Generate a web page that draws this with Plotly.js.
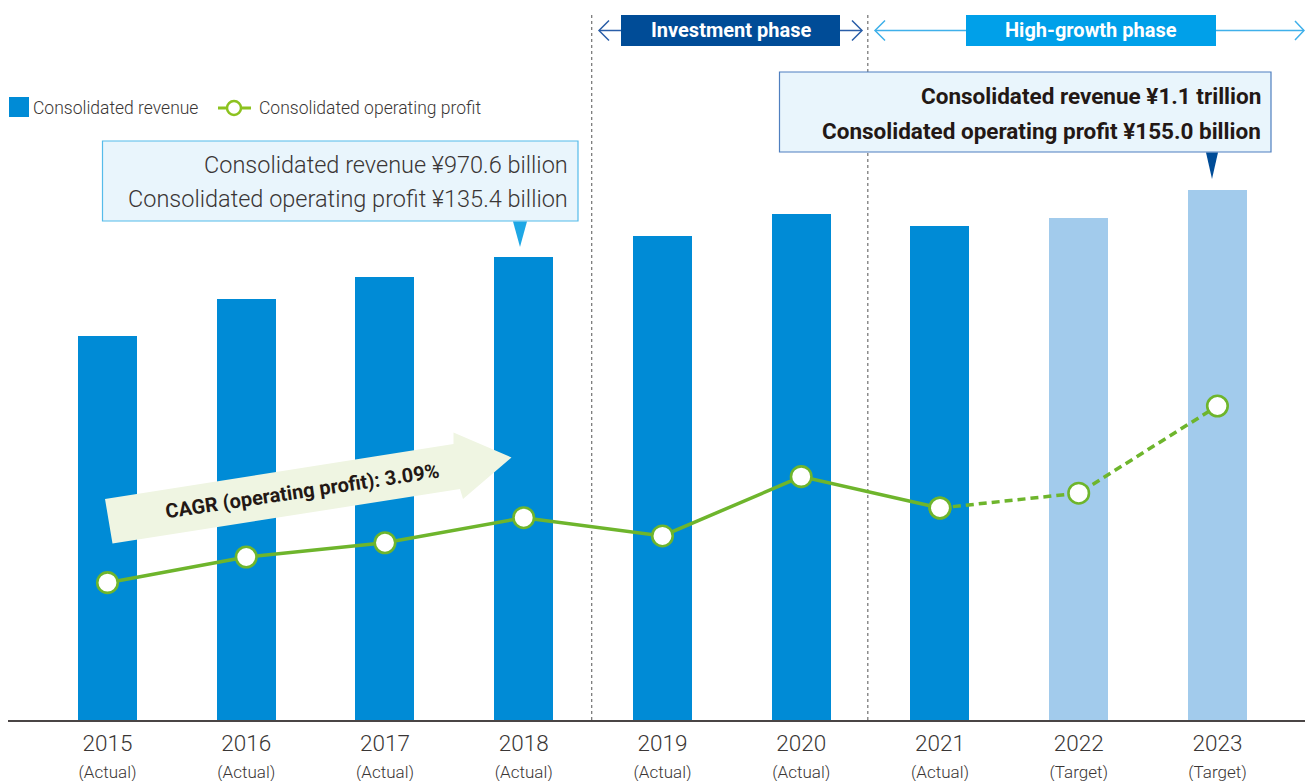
<!DOCTYPE html>
<html>
<head>
<meta charset="utf-8">
<script src="https://cdn.plot.ly/plotly-3.0.1.min.js"></script>
<style>
  html, body { margin: 0; padding: 0; background: #ffffff; }
  #chart { width: 1305px; height: 781px; }
</style>
</head>
<body>
<div id="chart"></div>
<script>
// ---------------- data ----------------
const years = ['2015', '2016', '2017', '2018', '2019', '2020', '2021', '2022', '2023'];
const status = ['Actual', 'Actual', 'Actual', 'Actual', 'Actual', 'Actual', 'Actual', 'Target', 'Target'];
const revenue = [805.6, 882.5, 928.7, 970.6, 1014.6, 1060.7, 1035.6, 1052.3, 1111.0];      // ¥ billion
const opProfit = [124.0, 128.5, 131.0, 135.4, 132.2, 142.6, 137.1, 139.7, 155.0];           // ¥ billion
const seriesNames = ['Consolidated revenue', 'Consolidated operating profit'];
const phaseLabels = ['Investment phase', 'High-growth phase'];
const callout2018 = ['Consolidated revenue ¥970.6 billion', 'Consolidated operating profit ¥135.4 billion'];
const callout2023 = ['Consolidated revenue ¥1.1 trillion', 'Consolidated operating profit ¥155.0 billion'];
const cagrLabel = 'CAGR (operating profit): 3.09%';

// ---------------- styles ----------------
const FONT = 'Roboto, "Open Sans", "DejaVu Sans", sans-serif';
const TEXT = '#3a3635';
const DARK_TEXT = '#231815';
const BLUE = '#008bd6';
const LIGHT_BLUE = '#a2cbec';
const GREEN = '#6eb52c';
const LEGEND_GREEN = '#8cc21f';
const NAVY = '#004c97';
const CYAN = '#00a0e9';

const W = 1305, H = 781;
const M = { l: 8, r: 0, t: 0, b: 61 };
const plotW = W - M.l - M.r, plotH = H - M.t - M.b;
// pixel -> paper helpers (for decorative shapes only)
const px = x => (x - M.l) / plotW;
const py = y => (M.t + plotH - y) / plotH;
const pathOf = pts => pts.map((p, i) => (i ? 'L' : 'M') + px(p[0]).toFixed(5) + ',' + py(p[1]).toFixed(5)).join(' ');

const actualIdx = status.map((s, i) => s === 'Actual' ? i : -1).filter(i => i >= 0);
const lastActual = actualIdx[actualIdx.length - 1];
const dashIdx = years.map((_, i) => i).filter(i => i >= lastActual);

const tickText = years.map((y, i) =>
  '<span style="font-size:22.5px">' + y + '</span><br><span style="font-size:17px">(' + status[i] + ')</span>');

const traces = [
  {
    type: 'bar', x: years, y: revenue, name: seriesNames[0],
    marker: { color: status.map(s => s === 'Actual' ? BLUE : LIGHT_BLUE) },
    width: 0.425, yaxis: 'y', showlegend: false, hoverinfo: 'x+y'
  },
  {
    type: 'scatter', mode: 'lines+markers',
    x: dashIdx.map(i => years[i]), y: dashIdx.map(i => opProfit[i]),
    yaxis: 'y2', showlegend: false,
    line: { color: GREEN, width: 3.5, dash: '8px,5px' },
    marker: { size: 20.5, color: '#ffffff', line: { color: GREEN, width: 2.6 } }
  },
  {
    type: 'scatter', mode: 'lines+markers', name: seriesNames[1],
    x: actualIdx.map(i => years[i]), y: actualIdx.map(i => opProfit[i]),
    yaxis: 'y2', showlegend: false,
    line: { color: GREEN, width: 3.5 },
    marker: { size: 20.5, color: '#ffffff', line: { color: GREEN, width: 2.6 } }
  }
];

const shapes = [
  // phase dividers
  { type: 'line', xref: 'x', yref: 'paper', x0: 3.49, x1: 3.49, y0: 0, y1: py(15), layer: 'below',
    line: { color: '#707070', width: 1.2, dash: 'dot' } },
  { type: 'line', xref: 'x', yref: 'paper', x0: 5.48, x1: 5.48, y0: 0, y1: py(15), layer: 'below',
    line: { color: '#707070', width: 1.2, dash: 'dot' } },
  // investment phase header
  { type: 'rect', xref: 'paper', yref: 'paper', x0: px(621), x1: px(840), y0: py(46), y1: py(15),
    fillcolor: NAVY, line: { width: 0 } },
  { type: 'path', xref: 'paper', yref: 'paper', path: pathOf([[599, 30.5], [621, 30.5]]), line: { color: '#2a5ea8', width: 1.5 } },
  { type: 'path', xref: 'paper', yref: 'paper', path: pathOf([[609, 20.5], [599, 30.5], [609, 40.5]]), line: { color: '#2a5ea8', width: 1.5 } },
  { type: 'path', xref: 'paper', yref: 'paper', path: pathOf([[840, 30.5], [862, 30.5]]), line: { color: '#2a5ea8', width: 1.5 } },
  { type: 'path', xref: 'paper', yref: 'paper', path: pathOf([[852, 20.5], [862, 30.5], [852, 40.5]]), line: { color: '#2a5ea8', width: 1.5 } },
  // high-growth phase header
  { type: 'rect', xref: 'paper', yref: 'paper', x0: px(966), x1: px(1216), y0: py(46), y1: py(15),
    fillcolor: CYAN, line: { width: 0 } },
  { type: 'path', xref: 'paper', yref: 'paper', path: pathOf([[875, 30.5], [966, 30.5]]), line: { color: '#3fb0ea', width: 1.5 } },
  { type: 'path', xref: 'paper', yref: 'paper', path: pathOf([[885, 20.5], [875, 30.5], [885, 40.5]]), line: { color: '#3fb0ea', width: 1.5 } },
  { type: 'path', xref: 'paper', yref: 'paper', path: pathOf([[1216, 30.5], [1304, 30.5]]), line: { color: '#3fb0ea', width: 1.5 } },
  { type: 'path', xref: 'paper', yref: 'paper', path: pathOf([[1295, 21], [1304, 30.5], [1295, 40]]), line: { color: '#3fb0ea', width: 1.5 } },
  // legend
  { type: 'rect', xref: 'paper', yref: 'paper', x0: px(9), x1: px(29), y0: py(117), y1: py(97),
    fillcolor: BLUE, line: { width: 0 } },
  { type: 'path', xref: 'paper', yref: 'paper', path: pathOf([[218, 108], [251, 108]]), line: { color: LEGEND_GREEN, width: 3 } },
  { type: 'circle', xref: 'paper', yref: 'paper', x0: px(227), x1: px(241), y0: py(115), y1: py(101),
    fillcolor: '#ffffff', line: { color: LEGEND_GREEN, width: 2.5 } },
  // 2018 callout
  { type: 'rect', xref: 'paper', yref: 'paper', x0: px(102.5), x1: px(578), y0: py(221), y1: py(141),
    fillcolor: '#e9f5fc', line: { color: '#55bbea', width: 1.2 } },
  { type: 'path', xref: 'paper', yref: 'paper', path: pathOf([[513, 221.5], [527, 221.5], [520, 247]]) + ' Z',
    fillcolor: '#1ea7e5', line: { width: 0 } },
  // 2023 callout
  { type: 'rect', xref: 'paper', yref: 'paper', x0: px(779.5), x1: px(1271), y0: py(152), y1: py(72),
    fillcolor: '#e9f5fc', line: { color: '#4f7fbf', width: 1.2 } },
  { type: 'path', xref: 'paper', yref: 'paper', path: pathOf([[1206, 152.5], [1218, 152.5], [1212, 179]]) + ' Z',
    fillcolor: NAVY, line: { width: 0 } },
  // CAGR arrow
  { type: 'path', xref: 'paper', yref: 'paper',
    path: pathOf([[105, 499], [453.5, 444], [453.5, 432.5], [511.5, 457.5], [463, 499], [460, 489], [112.5, 543.5]]) + ' Z',
    fillcolor: '#eff5e2', line: { width: 0 } }
];

const ann = (x, y, text, opts) => Object.assign({
  xref: 'paper', yref: 'paper', x: px(x), y: py(y), text: text, showarrow: false,
  xanchor: 'left', yanchor: 'middle'
}, opts);

const annotations = [
  ann(730.5, 30.5, '<b>' + phaseLabels[0] + '</b>', { xanchor: 'center', font: { family: FONT, size: 20, color: '#ffffff' } }),
  ann(1091, 30.5, '<b>' + phaseLabels[1] + '</b>', { xanchor: 'center', font: { family: FONT, size: 20, color: '#ffffff' } }),
  ann(31, 108, seriesNames[0], { font: { family: FONT, size: 17.5, color: TEXT, weight: 300 } }),
  ann(257, 108, seriesNames[1], { font: { family: FONT, size: 17.5, color: TEXT, weight: 300 } }),
  ann(570, 165, callout2018[0], { xanchor: 'right', font: { family: FONT, size: 23.5, color: TEXT, weight: 300 } }),
  ann(570, 199, callout2018[1], { xanchor: 'right', font: { family: FONT, size: 23.5, color: TEXT, weight: 300 } }),
  ann(1263, 96.5, '<b>' + callout2023[0] + '</b>', { xanchor: 'right', font: { family: FONT, size: 22.5, color: DARK_TEXT } }),
  ann(1263, 130.5, '<b>' + callout2023[1] + '</b>', { xanchor: 'right', font: { family: FONT, size: 22.5, color: DARK_TEXT } }),
  ann(302, 491, '<b>' + cagrLabel + '</b>', { xanchor: 'center', textangle: -8.5, font: { family: FONT, size: 20, color: DARK_TEXT } })
];

const layout = {
  width: W, height: H,
  margin: M,
  paper_bgcolor: '#ffffff', plot_bgcolor: '#ffffff',
  showlegend: false,
  font: { family: FONT, color: TEXT },
  bargap: 0,
  xaxis: {
    type: 'category', range: [-0.717, 8.631], fixedrange: true,
    tickmode: 'array', tickvals: years, ticktext: tickText,
    ticks: '', showgrid: false, zeroline: false,
    showline: true, linecolor: '#4a4545', linewidth: 1.5,
    tickfont: { family: FONT, size: 20.5, color: TEXT, weight: 300 },
    ticklabelstandoff: 5
  },
  yaxis: {
    range: [0, 1509.3], visible: false, showgrid: false, zeroline: false, fixedrange: true
  },
  yaxis2: {
    range: [99.9, 226.24], overlaying: 'y', side: 'right', visible: false,
    showgrid: false, zeroline: false, fixedrange: true
  },
  shapes: shapes,
  annotations: annotations
};

Plotly.newPlot('chart', traces, layout, { displayModeBar: false, staticPlot: true });
</script>
</body>
</html>
